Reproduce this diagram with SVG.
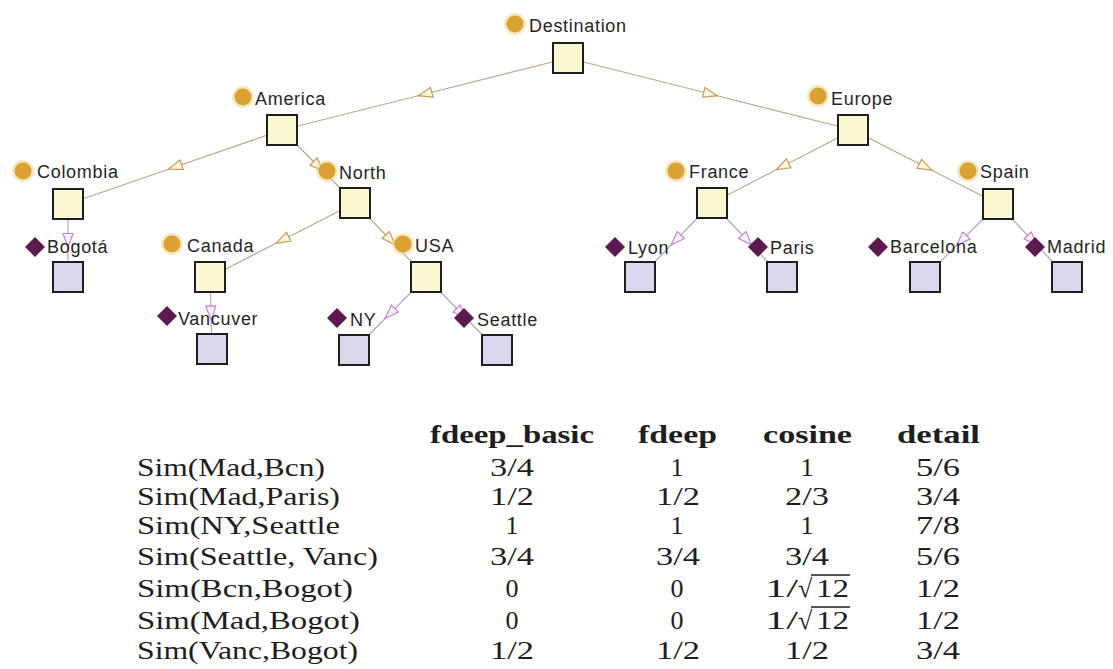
<svg xmlns="http://www.w3.org/2000/svg" width="1113" height="669" viewBox="0 0 1113 669">
  <style>
    .lbl { font-family: "Liberation Sans", Arial, sans-serif; font-size: 18px; letter-spacing: 0.7px; fill: #262626; }
    .cls { fill: #fbf8d2; stroke: #1e1e1e; stroke-width: 2; }
    .ind { fill: #d9d8ec; stroke: #1e1e1e; stroke-width: 2; }
    .dot { fill: #d9a232; }
    .halo { fill: #f1d48e; opacity: 0.55; }
    .dia { fill: #5c1a4e; }
    .sub { fill: none; stroke: #bba889; stroke-width: 1.2; marker-mid: url(#triC); }
    .inst { fill: none; stroke: #bba3c6; stroke-width: 1.2; marker-mid: url(#triI); }
    .tb { font-family: "Liberation Serif", "Times New Roman", serif; font-size: 26px; fill: #1e1e1e; }
    .hd { font-weight: bold; }
    .num { text-anchor: middle; }
  </style>
  <defs>
    <marker id="triC" viewBox="0 0 16 12" refX="8" refY="6" markerWidth="16" markerHeight="12" markerUnits="userSpaceOnUse" orient="auto">
      <path d="M1,1 L15,6 L1,11 z" fill="#fdf6de" stroke="#c79a5c" stroke-width="1.2"/>
    </marker>
    <marker id="triI" viewBox="0 0 16 12" refX="8" refY="6" markerWidth="16" markerHeight="12" markerUnits="userSpaceOnUse" orient="auto">
      <path d="M1,1 L15,6 L1,11 z" fill="#faf2fb" stroke="#c483d6" stroke-width="1.2"/>
    </marker>
  </defs>
  <rect width="1113" height="669" fill="#ffffff"/>

  <!-- connectors: parent centre, midpoint (arrowhead), child centre -->
  <g id="connectors">
    <path class="sub" d="M568,58 L425,94 L282,130"/>
    <path class="sub" d="M568,58 L710.5,94 L853,130"/>
    <path class="sub" d="M282,130 L175,167 L68,204"/>
    <path class="sub" d="M282,130 L318.5,166.5 L355,203"/>
    <path class="sub" d="M853,130 L782.5,166.5 L712,203"/>
    <path class="sub" d="M853,130 L925.5,167 L998,204"/>
    <path class="sub" d="M355,203 L282.5,240 L210,277"/>
    <path class="sub" d="M355,203 L390.5,240 L426,277"/>
    <path class="inst" d="M68,204 L68,240.5 L68,277"/>
    <path class="inst" d="M210,277 L211,313 L212,349"/>
    <path class="inst" d="M426,277 L390,313.5 L354,350"/>
    <path class="inst" d="M426,277 L461.5,313.5 L497,350"/>
    <path class="inst" d="M712,203 L676,240 L640,277"/>
    <path class="inst" d="M712,203 L747,240 L782,277"/>
    <path class="inst" d="M998,204 L961.5,240.5 L925,277"/>
    <path class="inst" d="M998,204 L1032.5,240.5 L1067,277"/>
  </g>

  <!-- classes -->
  <g id="destination">
    <rect class="cls" x="553" y="43" width="30" height="30"/>
    <circle class="halo" cx="515" cy="24" r="11"/><circle class="dot" cx="515" cy="24" r="8.5"/>
    <text class="lbl" x="529" y="32">Destination</text>
  </g>
  <g id="america">
    <rect class="cls" x="267" y="115" width="30" height="30"/>
    <circle class="halo" cx="243" cy="97" r="11"/><circle class="dot" cx="243" cy="97" r="8.5"/>
    <text class="lbl" x="255" y="105">America</text>
  </g>
  <g id="europe">
    <rect class="cls" x="838" y="115" width="30" height="30"/>
    <circle class="halo" cx="818" cy="96" r="11"/><circle class="dot" cx="818" cy="96" r="8.5"/>
    <text class="lbl" x="831" y="105">Europe</text>
  </g>
  <g id="colombia">
    <rect class="cls" x="53" y="189" width="30" height="30"/>
    <circle class="halo" cx="23" cy="171" r="11"/><circle class="dot" cx="23" cy="171" r="8.5"/>
    <text class="lbl" x="37" y="178">Colombia</text>
  </g>
  <g id="north">
    <rect class="cls" x="340" y="188" width="30" height="30"/>
    <circle class="halo" cx="327" cy="171" r="11"/><circle class="dot" cx="327" cy="171" r="8.5"/>
    <text class="lbl" x="339" y="179">North</text>
  </g>
  <g id="france">
    <rect class="cls" x="697" y="188" width="30" height="30"/>
    <circle class="halo" cx="676" cy="171" r="11"/><circle class="dot" cx="676" cy="171" r="8.5"/>
    <text class="lbl" x="689" y="178">France</text>
  </g>
  <g id="spain">
    <rect class="cls" x="983" y="189" width="30" height="30"/>
    <circle class="halo" cx="968" cy="171" r="11"/><circle class="dot" cx="968" cy="171" r="8.5"/>
    <text class="lbl" x="980" y="178">Spain</text>
  </g>
  <g id="canada">
    <rect class="cls" x="195" y="262" width="30" height="30"/>
    <circle class="halo" cx="172" cy="244" r="11"/><circle class="dot" cx="172" cy="244" r="8.5"/>
    <text class="lbl" x="187" y="252">Canada</text>
  </g>
  <g id="usa">
    <rect class="cls" x="411" y="262" width="30" height="30"/>
    <circle class="halo" cx="403" cy="244" r="11"/><circle class="dot" cx="403" cy="244" r="8.5"/>
    <text class="lbl" x="415" y="252">USA</text>
  </g>

  <!-- individuals -->
  <g id="bogota">
    <rect class="ind" x="53" y="262" width="30" height="30"/>
    <path class="dia" d="M35,237 L45,247 L35,257 L25,247 z"/>
    <text class="lbl" x="47" y="253">Bogotá</text>
  </g>
  <g id="vancuver">
    <rect class="ind" x="197" y="334" width="30" height="30"/>
    <path class="dia" d="M167,306 L177,316 L167,326 L157,316 z"/>
    <text class="lbl" x="178" y="325">Vancuver</text>
  </g>
  <g id="ny">
    <rect class="ind" x="339" y="335" width="30" height="30"/>
    <path class="dia" d="M337,308 L347,318 L337,328 L327,318 z"/>
    <text class="lbl" x="350" y="326">NY</text>
  </g>
  <g id="seattle">
    <rect class="ind" x="482" y="335" width="30" height="30"/>
    <path class="dia" d="M464,308 L474,318 L464,328 L454,318 z"/>
    <text class="lbl" x="477" y="326">Seattle</text>
  </g>
  <g id="lyon">
    <rect class="ind" x="625" y="262" width="30" height="30"/>
    <path class="dia" d="M615,237 L625,247 L615,257 L605,247 z"/>
    <text class="lbl" x="628" y="254">Lyon</text>
  </g>
  <g id="paris">
    <rect class="ind" x="767" y="262" width="30" height="30"/>
    <path class="dia" d="M758,237 L768,247 L758,257 L748,247 z"/>
    <text class="lbl" x="770" y="254">Paris</text>
  </g>
  <g id="barcelona">
    <rect class="ind" x="910" y="262" width="30" height="30"/>
    <path class="dia" d="M878,237 L888,247 L878,257 L868,247 z"/>
    <text class="lbl" x="890" y="253">Barcelona</text>
  </g>
  <g id="madrid">
    <rect class="ind" x="1052" y="262" width="30" height="30"/>
    <path class="dia" d="M1035,237 L1045,247 L1035,257 L1025,247 z"/>
    <text class="lbl" x="1047" y="253">Madrid</text>
  </g>

  <!-- similarity table -->
  <g id="table" class="tb">
    <text class="hd" x="430" y="443" textLength="164" lengthAdjust="spacingAndGlyphs">fdeep_basic</text>
    <text class="hd" x="638" y="443" textLength="79" lengthAdjust="spacingAndGlyphs">fdeep</text>
    <text class="hd" x="763" y="443" textLength="89" lengthAdjust="spacingAndGlyphs">cosine</text>
    <text class="hd" x="897" y="443" textLength="83" lengthAdjust="spacingAndGlyphs">detail</text>

    <text x="137" y="476" textLength="188" lengthAdjust="spacingAndGlyphs">Sim(Mad,Bcn)</text>
    <text x="137" y="505" textLength="203" lengthAdjust="spacingAndGlyphs">Sim(Mad,Paris)</text>
    <text x="137" y="534" textLength="203" lengthAdjust="spacingAndGlyphs">Sim(NY,Seattle</text>
    <text x="137" y="565" textLength="241" lengthAdjust="spacingAndGlyphs">Sim(Seattle, Vanc)</text>
    <text x="137" y="597" textLength="216" lengthAdjust="spacingAndGlyphs">Sim(Bcn,Bogot)</text>
    <text x="137" y="629" textLength="223" lengthAdjust="spacingAndGlyphs">Sim(Mad,Bogot)</text>
    <text x="137" y="659" textLength="221" lengthAdjust="spacingAndGlyphs">Sim(Vanc,Bogot)</text>

    <!-- fdeep_basic -->
    <text class="num" x="512" y="476" textLength="44" lengthAdjust="spacingAndGlyphs">3/4</text>
    <text class="num" x="512" y="505" textLength="44" lengthAdjust="spacingAndGlyphs">1/2</text>
    <text class="num" x="512" y="534">1</text>
    <text class="num" x="512" y="565" textLength="44" lengthAdjust="spacingAndGlyphs">3/4</text>
    <text class="num" x="512" y="597">0</text>
    <text class="num" x="512" y="629">0</text>
    <text class="num" x="512" y="659" textLength="44" lengthAdjust="spacingAndGlyphs">1/2</text>
    <!-- fdeep -->
    <text class="num" x="677" y="476">1</text>
    <text class="num" x="678" y="505" textLength="44" lengthAdjust="spacingAndGlyphs">1/2</text>
    <text class="num" x="677" y="534">1</text>
    <text class="num" x="678" y="565" textLength="44" lengthAdjust="spacingAndGlyphs">3/4</text>
    <text class="num" x="677" y="597">0</text>
    <text class="num" x="677" y="629">0</text>
    <text class="num" x="678" y="659" textLength="44" lengthAdjust="spacingAndGlyphs">1/2</text>
    <!-- cosine -->
    <text class="num" x="807" y="476">1</text>
    <text class="num" x="807" y="505" textLength="44" lengthAdjust="spacingAndGlyphs">2/3</text>
    <text class="num" x="807" y="534">1</text>
    <text class="num" x="807" y="565" textLength="44" lengthAdjust="spacingAndGlyphs">3/4</text>
    <text x="765" y="597" textLength="33" lengthAdjust="spacingAndGlyphs">1/</text>
    <text x="798" y="597">√</text>
    <text x="816" y="597" textLength="33" lengthAdjust="spacingAndGlyphs">12</text>
    <line x1="811" y1="575" x2="850" y2="575" stroke="#1e1e1e" stroke-width="1.3"/>
    <text x="765" y="629" textLength="33" lengthAdjust="spacingAndGlyphs">1/</text>
    <text x="798" y="629">√</text>
    <text x="816" y="629" textLength="33" lengthAdjust="spacingAndGlyphs">12</text>
    <line x1="811" y1="607" x2="850" y2="607" stroke="#1e1e1e" stroke-width="1.3"/>
    <text class="num" x="807" y="659" textLength="44" lengthAdjust="spacingAndGlyphs">1/2</text>
    <!-- detail -->
    <text class="num" x="938" y="476" textLength="44" lengthAdjust="spacingAndGlyphs">5/6</text>
    <text class="num" x="938" y="505" textLength="44" lengthAdjust="spacingAndGlyphs">3/4</text>
    <text class="num" x="938" y="534" textLength="44" lengthAdjust="spacingAndGlyphs">7/8</text>
    <text class="num" x="938" y="565" textLength="44" lengthAdjust="spacingAndGlyphs">5/6</text>
    <text class="num" x="938" y="597" textLength="44" lengthAdjust="spacingAndGlyphs">1/2</text>
    <text class="num" x="938" y="629" textLength="44" lengthAdjust="spacingAndGlyphs">1/2</text>
    <text class="num" x="938" y="659" textLength="44" lengthAdjust="spacingAndGlyphs">3/4</text>
  </g>
</svg>
